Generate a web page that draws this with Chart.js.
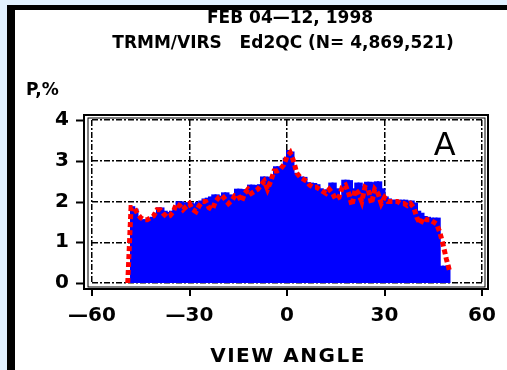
<!DOCTYPE html>
<html>
<head>
<meta charset="utf-8">
<script src="https://cdn.jsdelivr.net/npm/chart.js@4/dist/chart.umd.min.js"></script>
<style>
	html, body { margin: 0; padding: 0; background: #e1f1ff; }
	canvas { display: block; }
</style>
</head>
<body>
<canvas id="chart" width="507" height="370"></canvas>
<script>
// histogram bins (view angle, deg) -- blue bars
const binAngles = [
	-47.5, -46.5, -45.5, -44.5, -43.5, -42.5, -41.5, -40.5,
	-39.5, -38.5, -37.5, -36.5, -35.5, -34.5, -33.5, -32.5, -31.5, -30.5,
	-29.5, -28.5, -27.5, -26.5, -25.5, -24.5, -23.5, -22.5, -21.5, -20.5,
	-19.5, -18.5, -17.5, -16.5, -15.5, -14.5, -13.5, -12.5, -11.5, -10.5,
	-9.5, -8.5, -7.5, -6.5, -5.5, -4.5, -3.5, -2.5, -1.5, -0.5,
	0.5, 1.5, 2.5, 3.5, 4.5, 5.5, 6.5, 7.5, 8.5, 9.5,
	10.5, 11.5, 12.5, 13.5, 14.5, 15.5, 16.5, 17.5, 18.5, 19.5,
	20.5, 21.5, 22.5, 23.5, 24.5, 25.5, 26.5, 27.5, 28.5, 29.5,
	30.5, 31.5, 32.5, 33.5, 34.5, 35.5, 36.5, 37.5, 38.5, 39.5,
	40.5, 41.5, 42.5, 43.5, 44.5, 45.5, 46.5, 47.5, 48.5, 49.5
];
const binPercent = [
	1.86, 1.80, 1.60, 1.54, 1.54, 1.56, 1.60, 1.70,
	1.83, 1.83, 1.75, 1.72, 1.75, 1.80, 1.98, 1.98, 1.95, 1.96,
	1.95, 1.93, 1.97, 2.00, 2.05, 2.07, 2.10, 2.15, 2.15, 2.12,
	2.20, 2.20, 2.15, 2.10, 2.29, 2.29, 2.28, 2.25, 2.39, 2.39,
	2.38, 2.40, 2.59, 2.59, 2.58, 2.60, 2.84, 2.84, 2.85, 3.05,
	3.24, 3.20, 2.68, 2.60, 2.59, 2.58, 2.45, 2.44, 2.43, 2.40,
	2.30, 2.27, 2.27, 2.44, 2.44, 2.30, 2.10, 2.51, 2.51, 2.50,
	2.30, 2.44, 2.44, 2.35, 2.46, 2.46, 2.45, 2.47, 2.47, 2.30,
	2.10, 2.05, 2.02, 2.02, 2.02, 2.02, 2.02, 2.00, 2.00, 1.95,
	1.75, 1.70, 1.62, 1.60, 1.58, 1.58, 1.58, 0.40, 0.40, 0.40
];

// red dashed curve
const curveAngles = [
	-49, -48, -47, -46, -45, -44, -43, -42, -41, -40,
	-39, -38, -37, -36, -35, -34, -33, -32, -31, -30,
	-29, -28, -27, -26, -25, -24, -23, -22, -21, -20,
	-19, -18, -17, -16, -15, -14, -13, -12, -11, -10,
	-9, -8, -7, -6, -5, -4, -3, -2, -1, 0,
	1, 2, 3, 4, 5, 6, 7, 8, 9, 10,
	11, 12, 13, 14, 15, 16, 17, 18, 19, 20,
	21, 22, 23, 24, 25, 26, 27, 28, 29, 30,
	31, 32, 33, 34, 35, 36, 37, 38, 39, 40,
	41, 42, 43, 44, 45, 46, 47, 48, 49, 50
];
const curvePercent = [
	0.00, 1.85, 1.85, 1.70, 1.60, 1.55, 1.55, 1.60, 1.65, 1.80,
	1.80, 1.70, 1.62, 1.65, 1.75, 1.95, 1.90, 1.80, 1.88, 1.95,
	1.80, 1.75, 1.90, 2.00, 2.00, 1.85, 1.80, 2.00, 2.10, 2.15,
	2.05, 1.95, 2.02, 2.15, 2.15, 2.00, 2.20, 2.30, 2.20, 2.25,
	2.30, 2.40, 2.50, 2.30, 2.50, 2.75, 2.75, 2.80, 2.90, 3.10,
	3.20, 3.00, 2.70, 2.60, 2.55, 2.50, 2.40, 2.35, 2.35, 2.30,
	2.25, 2.20, 2.30, 2.20, 2.05, 2.10, 2.35, 2.40, 2.20, 1.90,
	2.30, 2.20, 2.00, 2.35, 2.30, 1.95, 2.30, 2.20, 1.95, 2.10,
	2.00, 2.00, 2.00, 2.00, 1.95, 1.95, 1.90, 1.95, 1.85, 1.60,
	1.45, 1.60, 1.55, 1.55, 1.50, 1.45, 1.25, 0.95, 0.60, 0.30
];

const xTicks = [-60, -30, 0, 30, 60];
const yTicks = [0, 1, 2, 3, 4];

const FONT = "'DejaVu Sans', sans-serif";

// page furniture: blue margin, white panel, black edge, titles
const panelPlugin = {
	id: 'panel',
	beforeDraw: function (chart) {
		const ctx = chart.ctx;
		ctx.save();
		ctx.fillStyle = '#e1f1ff';
		ctx.fillRect(0, 0, chart.width, chart.height);
		ctx.fillStyle = '#ffffff';
		ctx.fillRect(7, 5, chart.width - 7, chart.height - 5);
		ctx.fillStyle = '#000000';
		ctx.fillRect(7, 5, chart.width - 7, 5);
		ctx.fillRect(7, 5, 8, chart.height - 5);

		ctx.fillStyle = '#000';
		ctx.textAlign = 'center';
		ctx.textBaseline = 'middle';
		ctx.font = 'bold 17px ' + FONT;
		ctx.fillText('FEB 04\u201412, 1998', 290, 19);
		ctx.fillText('TRMM/VIRS   Ed2QC (N= 4,869,521)', 283, 44);
		ctx.textAlign = 'left';
		ctx.fillText('P,%', 26, 91);
		ctx.restore();
	},
	afterDraw: function (chart) {
		const ctx = chart.ctx;
		const x = chart.scales.x, y = chart.scales.y;
		const a = chart.chartArea;
		ctx.save();
		ctx.strokeStyle = '#000';
		ctx.lineWidth = 2;
		ctx.strokeRect(a.left - 8, a.top - 5, a.right - a.left + 14, a.bottom - a.top + 11);
		ctx.lineWidth = 1;
		ctx.strokeRect(a.left - 4, a.top - 2, a.right - a.left + 7, a.bottom - a.top + 6);
		ctx.lineWidth = 2;
		ctx.beginPath();
		yTicks.forEach(v => {
			const py = Math.round(y.getPixelForValue(v)) + 0.5;
			ctx.moveTo(a.left - 16, py);
			ctx.lineTo(a.left - 8, py);
		});
		xTicks.forEach(v => {
			const px = Math.round(x.getPixelForValue(v));
			ctx.moveTo(px, a.bottom + 6);
			ctx.lineTo(px, a.bottom + 13);
		});
		ctx.stroke();

		ctx.fillStyle = '#000';
		ctx.font = '32px ' + FONT;
		ctx.textAlign = 'center';
		ctx.textBaseline = 'middle';
		ctx.fillText('A', x.getPixelForValue(48.5), y.getPixelForValue(3.35));

		// axis title with the wide spacing of the original
		ctx.font = 'bold 20px ' + FONT;
		ctx.letterSpacing = '1.5px';
		ctx.fillText('VIEW ANGLE', x.getPixelForValue(0) + 1, 357);
		ctx.restore();
	}
};

new Chart(document.getElementById('chart'), {
	data: {
		datasets: [
			{
				type: 'line',
				data: curveAngles.map((v, i) => ({ x: v, y: curvePercent[i] })),
				borderColor: '#ff0000',
				borderWidth: 5,
				borderDash: [5, 3],
				pointRadius: 0,
				tension: 0,
				order: 1
			},
			{
				type: 'bar',
				data: binAngles.map((v, i) => ({ x: v, y: binPercent[i] })),
				backgroundColor: '#0000ff',
				borderWidth: 0,
				inflateAmount: 1,
				barPercentage: 1,
				categoryPercentage: 1,
				order: 2
			}
		]
	},
	options: {
		responsive: false,
		animation: false,
		devicePixelRatio: 1,
		layout: { padding: { left: 0, right: 25, top: 120, bottom: 0 } },
		plugins: { legend: { display: false }, tooltip: { enabled: false } },
		scales: {
			x: {
				type: 'linear',
				min: -60,
				max: 60,
				offset: false,
				afterFit: function (s) {
					s.height = 87;
					s.paddingLeft = 0;
					s.paddingRight = 0;
				},
				afterBuildTicks: function (s) { s.ticks = xTicks.map(v => ({ value: v })); },
				ticks: {
					color: '#000',
					font: { family: FONT, size: 20, weight: 'bold' },
					padding: 21,
					maxRotation: 0,
					callback: v => v < 0 ? '\u2014' + (-v) : String(v)
				},
				grid: { color: '#000', lineWidth: 1.5, drawTicks: false, offset: false },
				border: { display: false, dash: [6, 2, 2, 2] }
			},
			y: {
				min: 0,
				max: 4,
				afterFit: function (s) {
					s.width = 92;
					s.paddingTop = 0;
					s.paddingBottom = 0;
				},
				afterBuildTicks: function (s) { s.ticks = yTicks.map(v => ({ value: v })); },
				ticks: {
					color: '#000',
					font: { family: FONT, size: 20, weight: 'bold' },
					padding: 23
				},
				grid: { color: '#000', lineWidth: 1.5, drawTicks: false },
				border: { display: false, dash: [6, 2, 2, 2] }
			}
		}
	},
	plugins: [panelPlugin]
});
</script>
</body>
</html>
